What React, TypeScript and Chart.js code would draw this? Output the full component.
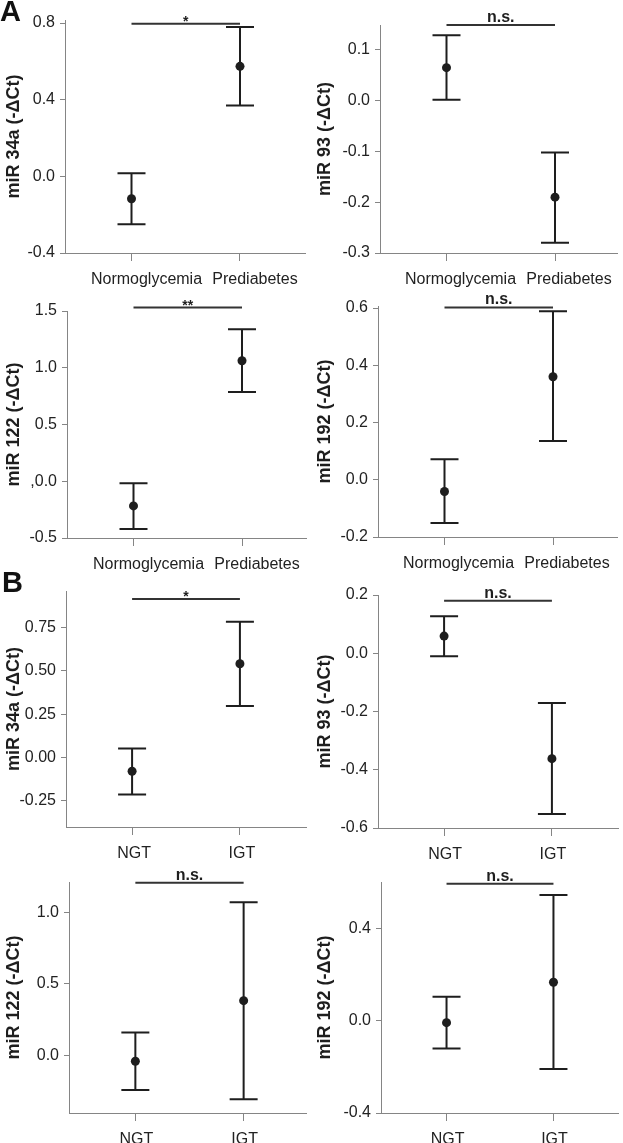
import React, { useEffect, useRef } from "react";
import { Chart, registerables } from "chart.js";

Chart.register(...registerables);

// ---------- data ----------
const groupsA = ["Normoglycemia", "Prediabetes"];
const groupsB = ["NGT", "IGT"];

// Panel A1: miR 34a
const a34Mean = [-0.117, 0.574];
const a34Low = [-0.25, 0.37];
const a34High = [0.016, 0.78];
const a34Ticks = [-0.4, 0, 0.4, 0.8];
const a34TickLabels = ["-0.4", "0.0", "0.4", "0.8"];

// Panel A2: miR 93
const a93Mean = [0.065, -0.19];
const a93Low = [0.002, -0.28];
const a93High = [0.129, -0.102];
const a93Ticks = [-0.3, -0.2, -0.1, 0, 0.1];
const a93TickLabels = ["-0.3", "-0.2", "-0.1", "0.0", "0.1"];

// Panel A3: miR 122
const a122Mean = [-0.217, 1.062];
const a122Low = [-0.42, 0.786];
const a122High = [-0.018, 1.34];
const a122Ticks = [-0.5, 0, 0.5, 1.0, 1.5];
const a122TickLabels = ["-0.5", ",0.0", "0.5", "1.0", "1.5"];

// Panel A4: miR 192
const a192Mean = [-0.041, 0.36];
const a192Low = [-0.151, 0.135];
const a192High = [0.072, 0.589];
const a192Ticks = [-0.2, 0, 0.2, 0.4, 0.6];
const a192TickLabels = ["-0.2", "0.0", "0.2", "0.4", "0.6"];

// Panel B1: miR 34a
const b34Mean = [-0.079, 0.541];
const b34Low = [-0.212, 0.298];
const b34High = [0.053, 0.783];
const b34Ticks = [-0.25, 0, 0.25, 0.5, 0.75];
const b34TickLabels = ["-0.25", "0.00", "0.25", "0.50", "0.75"];

// Panel B2: miR 93
const b93Mean = [0.059, -0.362];
const b93Low = [-0.01, -0.552];
const b93High = [0.127, -0.171];
const b93Ticks = [-0.6, -0.4, -0.2, 0, 0.2];
const b93TickLabels = ["-0.6", "-0.4", "-0.2", "0.0", "0.2"];

// Panel B3: miR 122
const b122Mean = [-0.039, 0.383];
const b122Low = [-0.24, -0.305];
const b122High = [0.161, 1.069];
const b122Ticks = [0, 0.5, 1.0];
const b122TickLabels = ["0.0", "0.5", "1.0"];

// Panel B4: miR 192
const b192Mean = [-0.009, 0.166];
const b192Low = [-0.121, -0.21];
const b192High = [0.103, 0.544];
const b192Ticks = [-0.4, 0, 0.4];
const b192TickLabels = ["-0.4", "0.0", "0.4"];

// ---------- styling / layout ----------
const FONT = "'Liberation Sans', Arial, Helvetica, sans-serif";
const AXIS = "#858585";
const INK = "#1e1e1e";
const TEXT = "#222222";
const CAT_GAP = 108.5; // px between the two categories
const CAT1_OFF = 66.5; // px from y axis to first category
const EXTRA = 16; // extra canvas height below each cell so labels are not clipped

type Panel = {
  title: string;
  cats: string[];
  mean: number[];
  low: number[];
  high: number[];
  ticks: number[];
  tickLabels: string[];
  yMin: number;
  yMax: number;
  bracket: number;
  sig: string;
  labelShift: number;
  cell: [number, number, number, number]; // left, top, width, height
  area: [number, number, number, number]; // left, top, right, bottom
};

const panels: Panel[] = [
  { title: "miR 34a (-ΔCt)", cats: groupsA, mean: a34Mean, low: a34Low, high: a34High, ticks: a34Ticks, tickLabels: a34TickLabels, yMin: -0.4, yMax: 0.816, bracket: 0.797, sig: "*", labelShift: 15, cell: [0, 0, 311, 285], area: [65, 20, 305, 253] },
  { title: "miR 93 (-ΔCt)", cats: groupsA, mean: a93Mean, low: a93Low, high: a93High, ticks: a93Ticks, tickLabels: a93TickLabels, yMin: -0.3, yMax: 0.149, bracket: 0.149, sig: "n.s.", labelShift: 14, cell: [311, 0, 312, 285], area: [380, 25, 617, 253] },
  { title: "miR 122 (-ΔCt)", cats: groupsA, mean: a122Mean, low: a122Low, high: a122High, ticks: a122Ticks, tickLabels: a122TickLabels, yMin: -0.5, yMax: 1.5, bracket: 1.53, sig: "**", labelShift: 15, cell: [0, 285, 311, 285], area: [67, 311, 306, 538] },
  { title: "miR 192 (-ΔCt)", cats: groupsA, mean: a192Mean, low: a192Low, high: a192High, ticks: a192Ticks, tickLabels: a192TickLabels, yMin: -0.2, yMax: 0.607, bracket: 0.602, sig: "n.s.", labelShift: 14, cell: [311, 285, 312, 285], area: [378, 306, 617, 537] },
  { title: "miR 34a (-ΔCt)", cats: groupsB, mean: b34Mean, low: b34Low, high: b34High, ticks: b34Ticks, tickLabels: b34TickLabels, yMin: -0.4, yMax: 0.96, bracket: 0.914, sig: "*", labelShift: 2, cell: [0, 570, 311, 285], area: [66, 591, 308, 827] },
  { title: "miR 93 (-ΔCt)", cats: groupsB, mean: b93Mean, low: b93Low, high: b93High, ticks: b93Ticks, tickLabels: b93TickLabels, yMin: -0.6, yMax: 0.2, bracket: 0.18, sig: "n.s.", labelShift: 1, cell: [311, 570, 312, 285], area: [378, 595, 620, 828] },
  { title: "miR 122 (-ΔCt)", cats: groupsB, mean: b122Mean, low: b122Low, high: b122High, ticks: b122Ticks, tickLabels: b122TickLabels, yMin: -0.4, yMax: 1.21, bracket: 1.205, sig: "n.s.", labelShift: 1, cell: [0, 855, 311, 288], area: [69, 882, 307, 1113] },
  { title: "miR 192 (-ΔCt)", cats: groupsB, mean: b192Mean, low: b192Low, high: b192High, ticks: b192Ticks, tickLabels: b192TickLabels, yMin: -0.4, yMax: 0.6, bracket: 0.592, sig: "n.s.", labelShift: 1, cell: [311, 855, 312, 288], area: [381, 882, 622, 1113] },
];

function makePlugin(p: Panel) {
  return {
    id: "errbars",
    beforeDatasetsDraw(chart: any) {
      const { ctx, scales } = chart;
      const xs = scales.x;
      const ys = scales.y;
      ctx.save();
      ctx.strokeStyle = INK;
      ctx.lineWidth = 2;
      const half = 14;
      p.mean.forEach((_, i) => {
        const x = xs.getPixelForValue(i + 1);
        const yl = ys.getPixelForValue(p.low[i]);
        const yh = ys.getPixelForValue(p.high[i]);
        ctx.beginPath();
        ctx.moveTo(x, yl);
        ctx.lineTo(x, yh);
        ctx.moveTo(x - half, yl);
        ctx.lineTo(x + half, yl);
        ctx.moveTo(x - half, yh);
        ctx.lineTo(x + half, yh);
        ctx.stroke();
      });
      ctx.restore();
    },
    afterDraw(chart: any) {
      const { ctx, scales } = chart;
      const xs = scales.x;
      const ys = scales.y;
      const x1 = xs.getPixelForValue(1);
      const x2 = xs.getPixelForValue(2);
      const y = ys.getPixelForValue(p.bracket);
      ctx.save();
      ctx.strokeStyle = "#333";
      ctx.lineWidth = 2;
      ctx.beginPath();
      ctx.moveTo(x1, y);
      ctx.lineTo(x2, y);
      ctx.stroke();
      ctx.fillStyle = INK;
      ctx.textAlign = "center";
      ctx.textBaseline = "alphabetic";
      const isStar = p.sig.indexOf("*") >= 0;
      ctx.font = `bold ${isStar ? 14 : 16}px ${FONT}`;
      ctx.fillText(p.sig, (x1 + x2) / 2, isStar ? y + 2 : y - 3);
      ctx.restore();
    },
  };
}

function PanelChart({ p }: { p: Panel }) {
  const ref = useRef<HTMLCanvasElement>(null);
  const [cl, ct, cw, ch] = p.cell;
  const [al, at, ar, ab] = p.area;
  useEffect(() => {
    if (!ref.current) return;
    const xMin = 1 - CAT1_OFF / CAT_GAP;
    const xMax = xMin + (ar - al) / CAT_GAP;
    const chart = new Chart(ref.current, {
      type: "scatter",
      data: {
        datasets: [
          {
            data: p.mean.map((m, i) => ({ x: i + 1, y: m })),
            pointRadius: 4.5,
            pointHoverRadius: 4.5,
            backgroundColor: INK,
            borderColor: INK,
            borderWidth: 0,
          },
        ],
      },
      options: {
        animation: false,
        responsive: false,
        maintainAspectRatio: false,
        events: [],
        layout: { padding: { top: at - ct, right: cl + cw - ar, left: 0, bottom: 0 } },
        plugins: { legend: { display: false }, tooltip: { enabled: false } },
        scales: {
          x: {
            type: "linear",
            min: xMin,
            max: xMax,
            bounds: "data",
            afterBuildTicks: (s: any) => {
              s.ticks = p.cats.map((_, i) => ({ value: i + 1 }));
            },
            afterFit: (s: any) => {
              s.height = ct + ch + EXTRA - ab;
            },
            ticks: {
              callback: (_v: any, i: number) => p.cats[i],
              font: { family: FONT, size: 16 },
              color: TEXT,
              padding: 9,
              labelOffset: p.labelShift,
              autoSkip: false,
              maxRotation: 0,
            },
            grid: { drawOnChartArea: false, drawTicks: true, tickLength: 8, color: AXIS, lineWidth: 1 },
            border: { display: true, color: AXIS, width: 1 },
          },
          y: {
            type: "linear",
            min: p.yMin,
            max: p.yMax,
            bounds: "data",
            afterBuildTicks: (s: any) => {
              s.ticks = p.ticks.map((v) => ({ value: v }));
            },
            afterFit: (s: any) => {
              s.width = al - cl;
            },
            ticks: {
              callback: (_v: any, i: number) => p.tickLabels[i],
              font: { family: FONT, size: 16 },
              color: TEXT,
              padding: 5,
              autoSkip: false,
            },
            grid: { drawOnChartArea: false, drawTicks: true, tickLength: 5, color: AXIS, lineWidth: 1 },
            border: { display: true, color: AXIS, width: 1 },
            title: {
              display: true,
              text: p.title,
              font: { family: FONT, size: 18, weight: "bold" },
              color: INK,
              padding: { top: 3, bottom: 0 },
            },
          },
        },
      },
      plugins: [makePlugin(p)],
    } as any);
    return () => chart.destroy();
  }, []);
  return (
    <canvas
      ref={ref}
      width={cw}
      height={ch + EXTRA}
      style={{ position: "absolute", left: cl, top: ct, width: cw, height: ch + EXTRA }}
    />
  );
}

export default function App() {
  const letter: React.CSSProperties = {
    position: "absolute",
    left: 0,
    fontFamily: FONT,
    fontWeight: "bold",
    fontSize: 29,
    lineHeight: "29px",
    color: "#111",
  };
  return (
    <div style={{ position: "absolute", left: 0, top: 0, width: 623, height: 1143, background: "#fff", overflow: "hidden" }}>
      {panels.map((p, i) => (
        <PanelChart key={i} p={p} />
      ))}
      <div style={{ ...letter, top: -3 }}>A</div>
      <div style={{ ...letter, left: 2, top: 568 }}>B</div>
    </div>
  );
}
